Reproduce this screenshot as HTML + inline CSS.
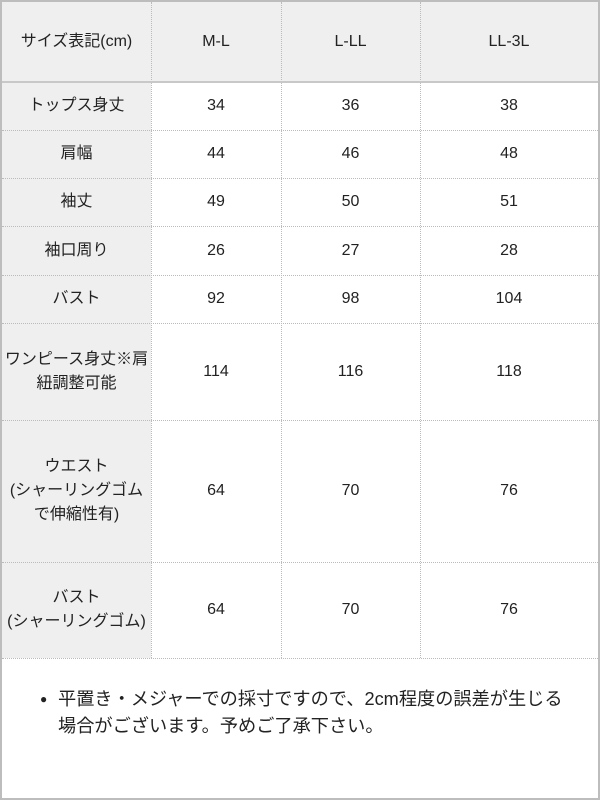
<!DOCTYPE html>
<html><head><meta charset="utf-8"><style>
body{margin:0;width:600px;height:800px;background:#fff;font-family:"Liberation Sans","Noto Sans CJK JP",sans-serif;color:#222;font-size:16px;}
#w{position:absolute;left:0;top:0;width:596px;height:796px;border:2px solid #bdbdbd;overflow:hidden}
.c{position:absolute;display:flex;align-items:center;justify-content:center;text-align:center;line-height:24px;box-sizing:border-box}
.h{background:#efefef}
.vl{position:absolute;top:0;height:656px;border-left:1px dotted #bbb}
.hl{position:absolute;left:0;width:596px;border-top:1px dotted #bbb}
</style></head><body><div id="w">
<div class="c h" style="left:0;top:0;width:149px;height:656px"></div>
<div class="c h" style="left:0;top:0;width:596px;height:79px"></div>
<div class="vl" style="left:149px"></div><div class="vl" style="left:279px"></div><div class="vl" style="left:418px"></div>
<div class="hl" style="top:79px;border-top:2px solid #c8c8c8"></div>
<div class="hl" style="top:128px"></div><div class="hl" style="top:176px"></div><div class="hl" style="top:224px"></div><div class="hl" style="top:273px"></div><div class="hl" style="top:321px"></div><div class="hl" style="top:418px"></div><div class="hl" style="top:560px"></div><div class="hl" style="top:656px"></div>
<div id="t"></div>
<div style="position:absolute;left:56px;top:684px;line-height:27px;font-size:18.2px;white-space:nowrap"><span style="position:absolute;left:-18px;font-size:12px">●</span>平置き・メジャーでの採寸ですので、2cm程度の誤差が生じる<br>場合がございます。予めご了承下さい。</div>
</div>
<script>
var rows=[[0,79,"サイズ表記(cm)","M-L","L-LL","LL-3L"],[79,128,"トップス身丈","34","36","38"],[128,176,"肩幅","44","46","48"],[176,224,"袖丈","49","50","51"],[224,273,"袖口周り","26","27","28"],[273,321,"バスト","92","98","104"],[321,418,"ワンピース身丈※肩<br>紐調整可能","114","116","118"],[418,560,"ウエスト<br>(シャーリングゴム<br>で伸縮性有)","64","70","76"],[560,656,"バスト<br>(シャーリングゴム)","64","70","76"]];
var xs=[[0,149],[149,279],[279,418],[418,596]],h="";
rows.forEach(function(r){for(var i=0;i<4;i++)h+='<div class="c" style="left:'+xs[i][0]+'px;top:'+r[0]+'px;width:'+(xs[i][1]-xs[i][0])+'px;height:'+(r[1]-r[0])+'px">'+r[2+i]+'</div>';});
document.getElementById('t').innerHTML=h;
</script>
</body></html>
